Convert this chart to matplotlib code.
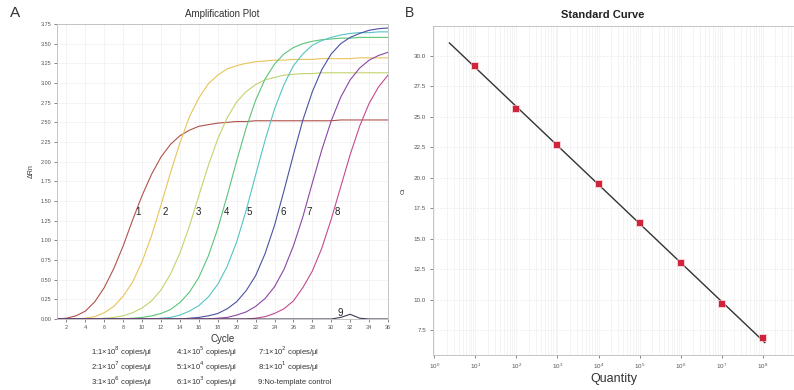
import numpy as np
import matplotlib
matplotlib.use("Agg")
import matplotlib.pyplot as plt
from matplotlib.ticker import MultipleLocator, FixedLocator, NullFormatter, LogLocator

plt.rcParams['font.family'] = ['Liberation Sans', 'DejaVu Sans']

# ---- Amplification plot data (delta Rn per cycle) ----
cycles = list(range(1, 37))

curve1 = [0.00, 0.01, 0.04, 0.10, 0.22, 0.40, 0.64, 0.93, 1.26, 1.57, 1.84, 2.06,
          2.22, 2.33, 2.40, 2.45, 2.47, 2.49, 2.50, 2.51, 2.51] + [2.52] * 9 + [2.53] * 6
curve2 = [0.00, 0.00, 0.00, 0.01, 0.03, 0.08, 0.16, 0.29, 0.47, 0.73, 1.06, 1.45,
          1.86, 2.24, 2.57, 2.81, 2.99, 3.10, 3.18, 3.22, 3.25, 3.27, 3.28, 3.29,
          3.29, 3.30, 3.30, 3.30, 3.31, 3.31, 3.31, 3.31, 3.32, 3.32, 3.32, 3.32]
curve3 = [0.00] * 5 + [0.01, 0.02, 0.04, 0.08, 0.14, 0.23, 0.37, 0.57, 0.84, 1.18,
                       1.57, 1.95, 2.29, 2.56, 2.76, 2.89, 2.98, 3.04, 3.07, 3.10,
                       3.11, 3.12, 3.12] + [3.13] * 8
curve4 = [0.00] * 8 + [0.01, 0.02, 0.04, 0.07, 0.12, 0.21, 0.34, 0.53, 0.80, 1.15,
                       1.57, 2.01, 2.43, 2.78, 3.05, 3.24, 3.37, 3.45, 3.50, 3.53,
                       3.55, 3.56, 3.57, 3.57, 3.58, 3.58, 3.58, 3.58]
curve5 = [0.00] * 11 + [0.01, 0.02, 0.05, 0.10, 0.17, 0.28, 0.44, 0.67, 0.98, 1.38,
                        1.83, 2.27, 2.67, 2.98, 3.22, 3.37, 3.48, 3.54, 3.58, 3.61,
                        3.63, 3.64, 3.64, 3.65, 3.65]
curve6 = [0.00] * 14 + [0.01, 0.02, 0.04, 0.07, 0.13, 0.22, 0.36, 0.55, 0.83, 1.19,
                        1.63, 2.09, 2.53, 2.89, 3.17, 3.37, 3.50, 3.58, 3.63, 3.67,
                        3.69, 3.70]
curve7 = [0.00] * 17 + [0.01, 0.02, 0.05, 0.09, 0.16, 0.26, 0.41, 0.63, 0.93, 1.30,
                        1.73, 2.15, 2.52, 2.82, 3.04, 3.19, 3.29, 3.35, 3.39]
curve8 = [0.00] * 21 + [0.01, 0.03, 0.07, 0.13, 0.23, 0.40, 0.61, 0.90, 1.27, 1.68,
                        2.09, 2.45, 2.74, 2.95, 3.10]
curve9 = [0.00] * 30 + [0.02, 0.06, 0.01, 0.00, 0.00, 0.00]

amp_curves = [curve1, curve2, curve3, curve4, curve5, curve6, curve7, curve8, curve9]
amp_colors = ['#b0524c', '#e8c45a', '#c2d46e', '#5cc47a', '#56c4c4',
              '#4a52a2', '#8a48a4', '#c44a8e', '#3c3c5a']
curve_labels = ['1', '2', '3', '4', '5', '6', '7', '8']
label_cycle = [9.6, 12.4, 15.9, 18.9, 21.3, 24.9, 27.7, 30.6]
label_level = 1.36

legend_texts = [
    r"1:1×10$^{8}$ copies/μl", r"2:1×10$^{7}$ copies/μl", r"3:1×10$^{6}$ copies/μl",
    r"4:1×10$^{5}$ copies/μl", r"5:1×10$^{4}$ copies/μl", r"6:1×10$^{3}$ copies/μl",
    r"7:1×10$^{2}$ copies/μl", r"8:1×10$^{1}$ copies/μl", "9:No-template control",
]

# ---- Standard curve data ----
quantity = [1e1, 1e2, 1e3, 1e4, 1e5, 1e6, 1e7, 1e8]
ct = [29.20, 25.62, 22.69, 19.49, 16.31, 12.98, 9.61, 6.82]
std_xticks = [1e0, 1e1, 1e2, 1e3, 1e4, 1e5, 1e6, 1e7, 1e8]
std_yticks = [7.5, 10.0, 12.5, 15.0, 17.5, 20.0, 22.5, 25.0, 27.5, 30.0]

W, H = 794, 390
fig = plt.figure(figsize=(W / 100, H / 100), dpi=100)


def fx(px):
    return px / W


def fy(py):
    return 1 - py / H


# ---------- Panel A ----------
axA = fig.add_axes([fx(57), fy(319), fx(388) - fx(57), fy(24) - fy(319)])
for vals, col in zip(amp_curves, amp_colors):
    axA.plot(cycles, vals, color=col, lw=0.8)
for lab, cx in zip(curve_labels, label_cycle):
    axA.text(cx, label_level, lab, fontsize=7, ha='center', va='center', color='#222222')
axA.text(30.9, 0.08, '9', fontsize=7, ha='center', va='center', color='#222222')

axA.set_xlim(1, 36)
axA.set_ylim(0, 3.75)
axA.xaxis.set_major_locator(MultipleLocator(2))
axA.yaxis.set_major_locator(MultipleLocator(0.25))
axA.yaxis.set_major_formatter(plt.FormatStrFormatter('%.2f'))
axA.tick_params(labelsize=4, length=2, width=0.5, colors='#555555', pad=2)
axA.grid(True, color='#f0f0f0', lw=0.5)
for sp in axA.spines.values():
    sp.set_color('#bbbbbb')
    sp.set_linewidth(0.6)
axA.set_xlabel('Cycle', fontsize=7, labelpad=3, color='#333333')
axA.set_ylabel('ΔRn', fontsize=5, labelpad=4, color='#333333')
axA.set_title('Amplification Plot', fontsize=7, pad=5, color='#333333')

fig.text(fx(10), fy(13), 'A', fontsize=11, ha='left', va='center', color='#333333')

leg_x = [91, 176, 258]
leg_y = [352, 367, 382]
for i, t in enumerate(legend_texts):
    fig.text(fx(leg_x[i // 3]), fy(leg_y[i % 3]), t, fontsize=5.5,
             ha='left', va='center', color='#333333')

# ---------- Panel B ----------
axB = fig.add_axes([fx(433), fy(355), 1 - fx(433), fy(26) - fy(355)])
logq = np.log10(quantity)
slope, intercept = np.polyfit(logq, ct, 1)
line_x = np.array([logq.min() - 0.63, logq.max() + 0.05])
axB.plot(10 ** line_x, slope * line_x + intercept, color='#333333', lw=1.0, zorder=2)
axB.scatter(quantity, ct, marker='s', s=38, color='#ffb0b8', alpha=0.6, zorder=3, lw=0)
axB.scatter(quantity, ct, marker='s', s=14, color='#d0243c', zorder=4, lw=0)

axB.set_xscale('log')
axB.set_xlim(10 ** -0.03, 10 ** 8.76)
axB.set_ylim(5.45, 32.46)
axB.xaxis.set_major_locator(FixedLocator(std_xticks))
axB.xaxis.set_minor_locator(LogLocator(base=10, subs=np.arange(2, 10)))
axB.xaxis.set_minor_formatter(NullFormatter())
axB.yaxis.set_major_locator(FixedLocator(std_yticks))
axB.yaxis.set_major_formatter(plt.FormatStrFormatter('%.1f'))
axB.tick_params(axis='both', which='major', labelsize=4.5, length=2, width=0.5,
                colors='#555555', pad=3)
axB.tick_params(axis='both', which='minor', length=0)
axB.grid(True, which='both', axis='x', color='#f2f2f2', lw=0.6)
axB.grid(True, which='major', axis='y', color='#e8e8e8', lw=0.6, ls=(0, (2, 2)))
for sp in axB.spines.values():
    sp.set_color('#bbbbbb')
    sp.set_linewidth(0.6)
axB.spines['right'].set_visible(False)
axB.set_xlabel('Quantity', fontsize=9, labelpad=1, color='#333333')
axB.set_ylabel('Ct', fontsize=4.5, labelpad=6, color='#333333')

fig.text(fx(603), fy(15), 'Standard Curve', fontsize=8, fontweight='bold',
         ha='center', va='center', color='#222222')
fig.text(fx(405), fy(13), 'B', fontsize=10, ha='left', va='center', color='#333333')

fig.savefig('out.png', dpi=100, facecolor='white')
